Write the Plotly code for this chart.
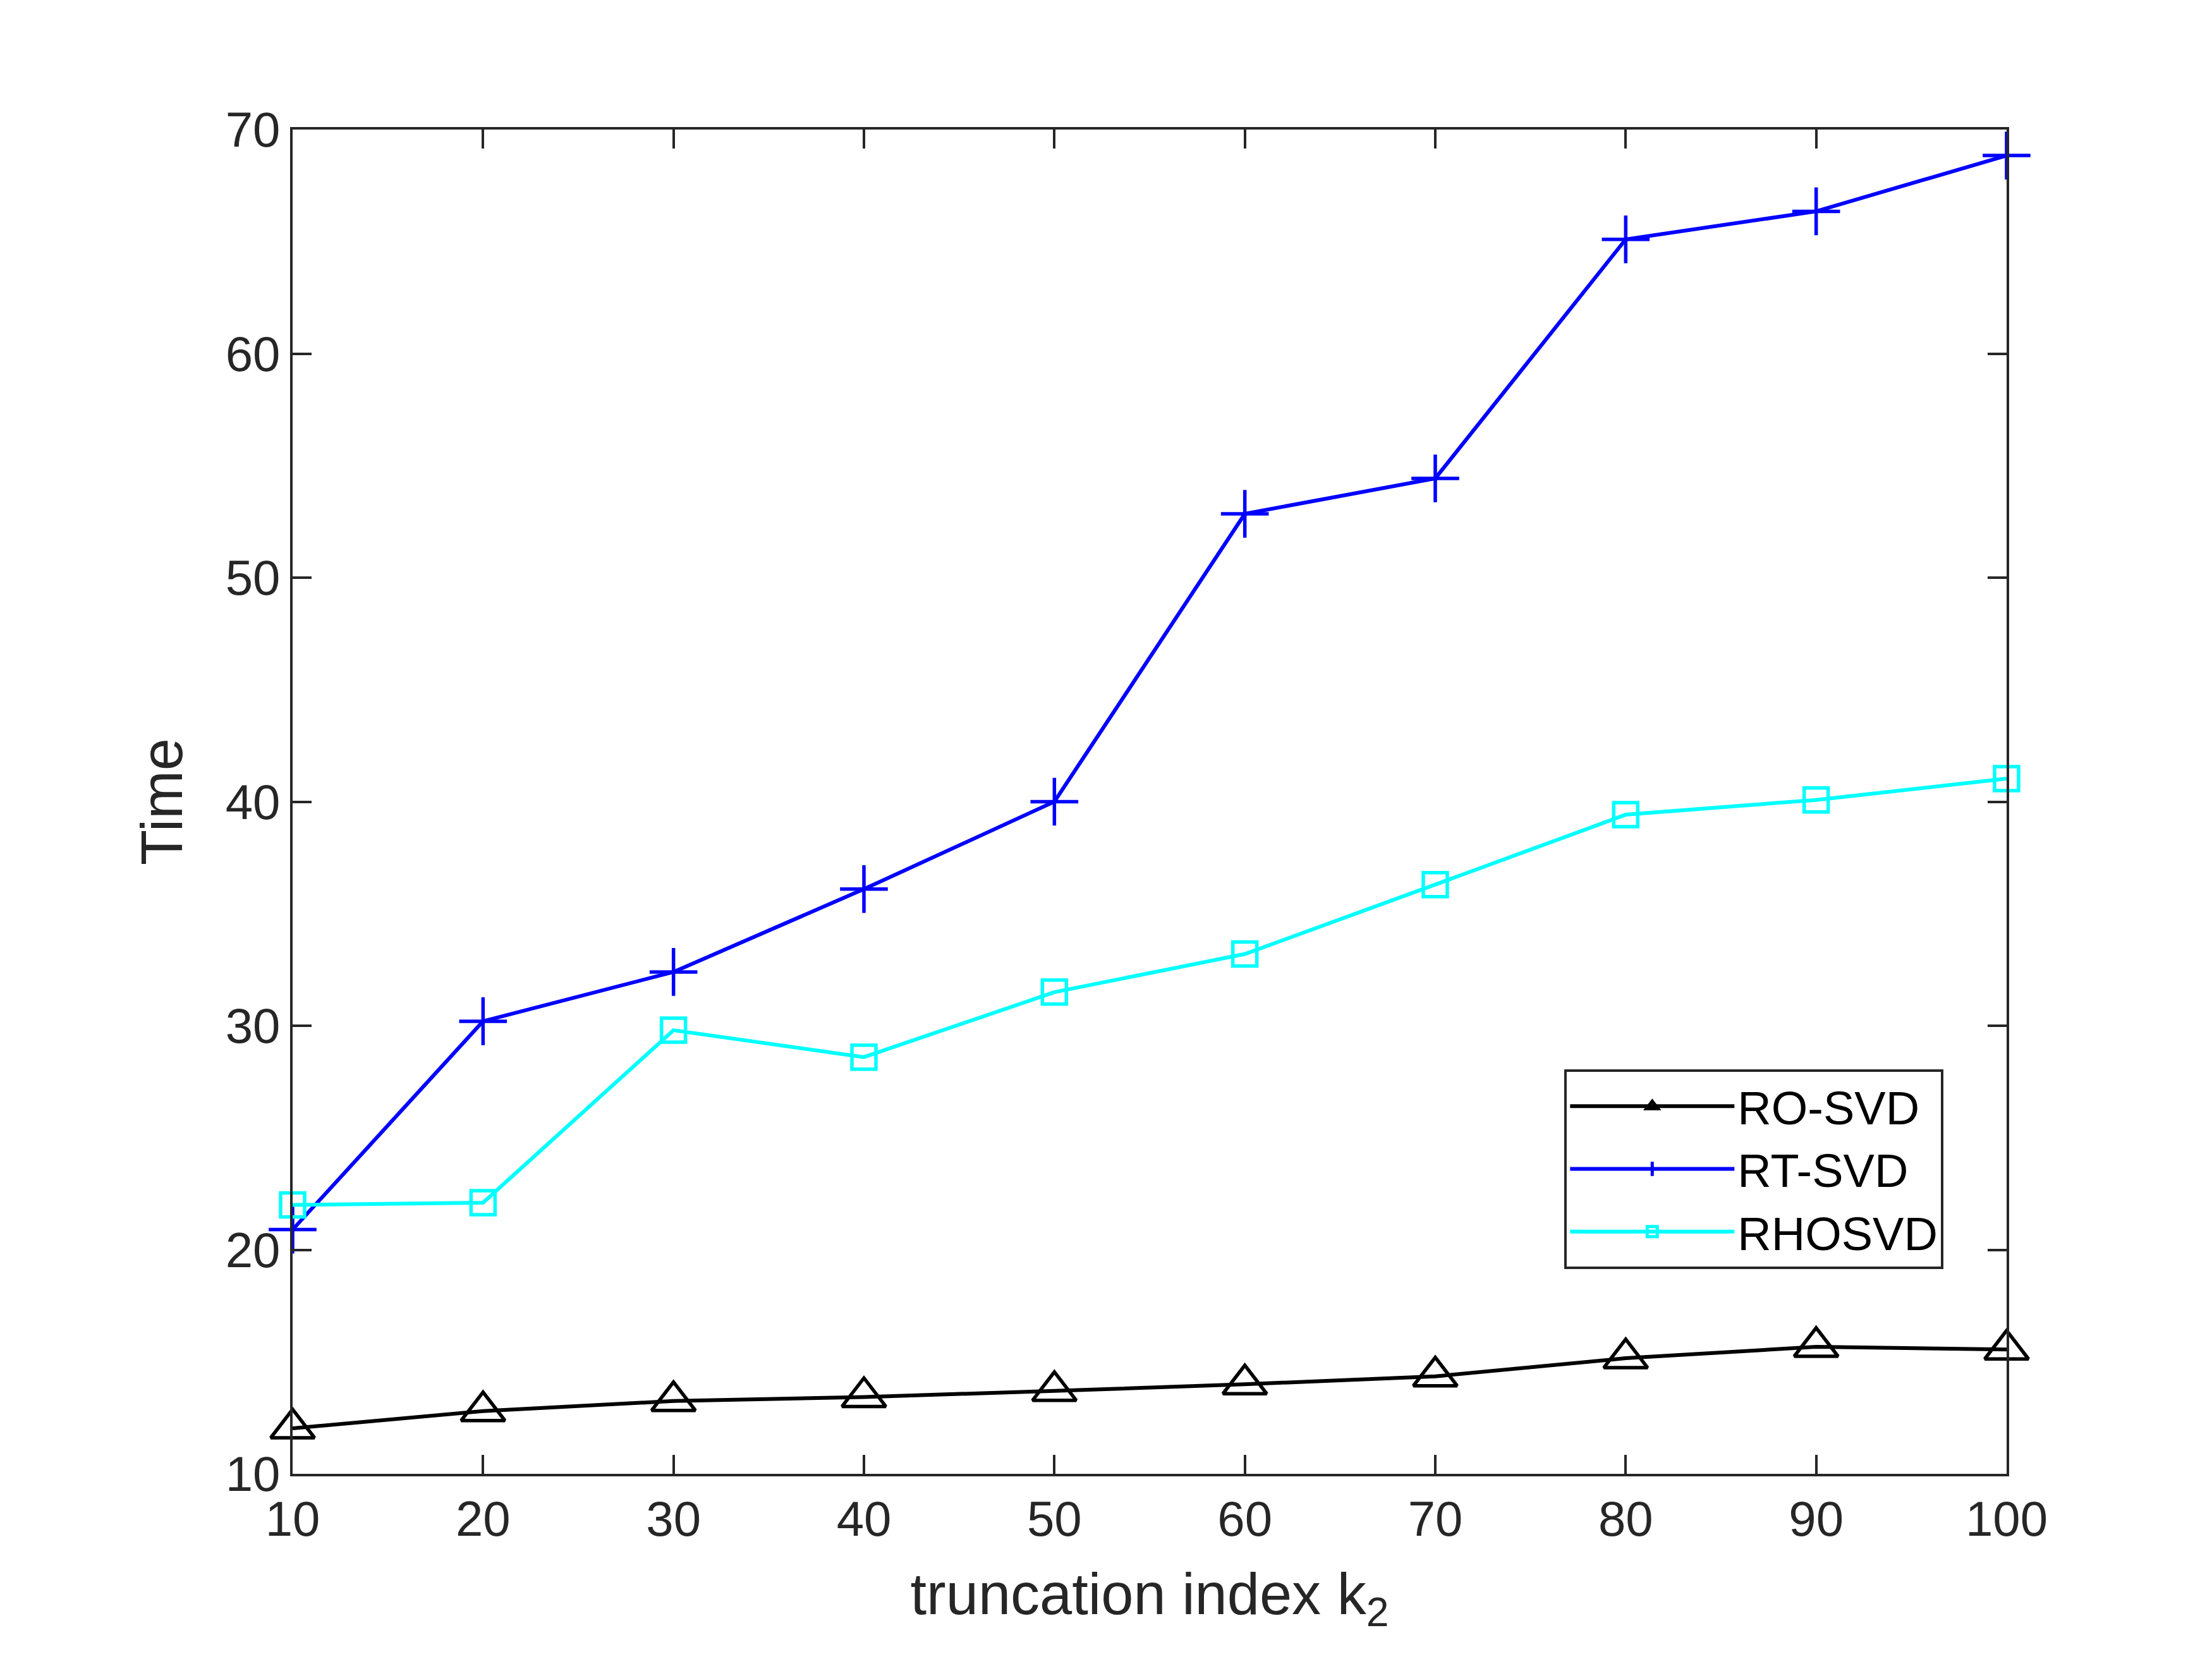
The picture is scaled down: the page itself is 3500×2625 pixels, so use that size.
import plotly.graph_objects as go

# truncation index and run times
k2 = [10, 20, 30, 40, 50, 60, 70, 80, 90, 100]
ro_svd = [12.03, 12.8, 13.25, 13.43, 13.7, 14.0, 14.35, 15.16, 15.67, 15.55]
rt_svd = [20.9, 30.2, 32.4, 36.1, 40.0, 52.85, 54.43, 65.1, 66.35, 68.84]
rhosvd = [22.0, 22.1, 29.8, 28.6, 31.5, 33.2, 36.3, 39.42, 40.08, 41.03]

x_ticks = [10, 20, 30, 40, 50, 60, 70, 80, 90, 100]
y_ticks = [10, 20, 30, 40, 50, 60, 70]

axis_col = "#262626"
font_name = "Liberation Sans, Arial, sans-serif"

fig = go.Figure()

fig.add_trace(go.Scatter(
    x=k2, y=ro_svd, name="RO-SVD", mode="lines+markers",
    line=dict(color="black", width=6),
    marker=dict(symbol="triangle-up-open", size=60, color="black",
                line=dict(width=5.5, color="black")),
    cliponaxis=False,
))
fig.add_trace(go.Scatter(
    x=k2, y=rt_svd, name="RT-SVD", mode="lines+markers",
    line=dict(color="#0000ff", width=6),
    marker=dict(symbol="cross-thin-open", size=54, color="#0000ff",
                line=dict(width=5.5, color="#0000ff")),
    cliponaxis=False,
))
fig.add_trace(go.Scatter(
    x=k2, y=rhosvd, name="RHOSVD", mode="lines+markers",
    line=dict(color="#00ffff", width=6),
    marker=dict(symbol="square-open", size=38, color="#00ffff",
                line=dict(width=5.5, color="#00ffff")),
    cliponaxis=False,
))

fig.update_layout(
    width=3500,
    height=2625,
    paper_bgcolor="white",
    plot_bgcolor="white",
    margin=dict(l=455, r=333, t=197, b=301),
    font=dict(family=font_name, size=78, color=axis_col),
    showlegend=True,
    legend=dict(
        x=0.742, y=0.301, xanchor="left", yanchor="top",
        bgcolor="white", bordercolor=axis_col, borderwidth=4,
        font=dict(size=74, color="black"),
        itemwidth=260,
        itemsizing="trace",
        tracegroupgap=0,
    ),
)

fig.update_xaxes(
    range=[10, 100], tickvals=x_ticks, ticks="inside", ticklen=30, tickwidth=4,
    tickcolor=axis_col, showline=True, linecolor=axis_col, linewidth=4,
    mirror="ticks", showgrid=False, zeroline=False,
    title=dict(text="truncation index k<sub>2</sub>", font=dict(size=92), standoff=45),
)
fig.update_yaxes(
    range=[10, 70], tickvals=y_ticks, ticks="inside", ticklen=30, tickwidth=4,
    tickcolor=axis_col, showline=True, linecolor=axis_col, linewidth=4,
    mirror="ticks", showgrid=False, zeroline=False,
    title=dict(text="Time", font=dict(size=92), standoff=38),
)

fig.write_html("out.html")
